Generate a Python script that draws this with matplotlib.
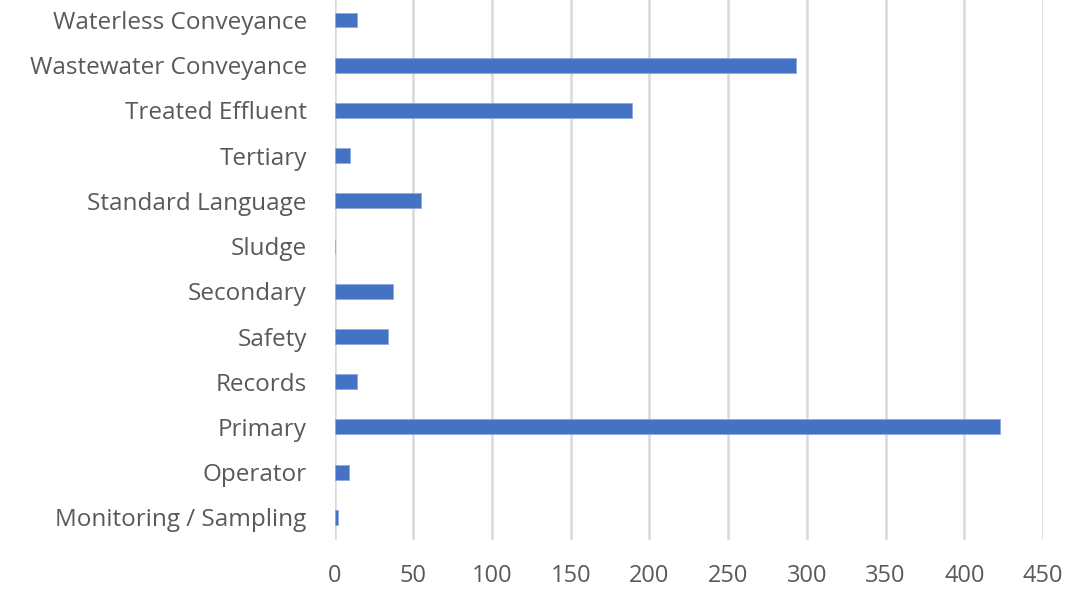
import matplotlib
matplotlib.use("Agg")
import matplotlib.pyplot as plt

# categorias de abajo hacia arriba
categorias = ["Monitoring / Sampling", "Operator", "Primary", "Records", "Safety",
              "Secondary", "Sludge", "Standard Language", "Tertiary",
              "Treated Effluent", "Wastewater Conveyance", "Waterless Conveyance"]
valores = [2, 9, 423, 14, 34, 37, 0, 55, 10, 189, 293, 14]
ticks_x = [0, 50, 100, 150, 200, 250, 300, 350, 400, 450]

plt.rcParams['font.family'] = ['Open Sans', 'DejaVu Sans']

fig = plt.figure(figsize=(10.82, 5.92), dpi=100)
ax = fig.add_axes([334.5/1082, 52/592, 708.5/1082, 542.6/592])

ax.barh(range(len(categorias)), valores, height=0.33, color="#4472C4",
        edgecolor="#8FAADC", linewidth=0.6, zorder=3)

ax.set_xlim(0, 450)
ax.set_ylim(-0.5, len(categorias) - 0.5)
ax.set_xticks(ticks_x)
ax.set_yticks(range(len(categorias)))
ax.set_yticklabels(categorias)

#Lineas de la cuadricula verticales
ax.grid(axis="x", color="#D9D9D9", linewidth=1.8, zorder=0)
for s in ax.spines.values():
    s.set_visible(False)
ax.tick_params(length=0, colors="#595959")
ax.tick_params(axis="y", pad=20, labelsize=17.5)
ax.tick_params(axis="x", pad=17, labelsize=17)

fig.savefig("out.png", dpi=100)
